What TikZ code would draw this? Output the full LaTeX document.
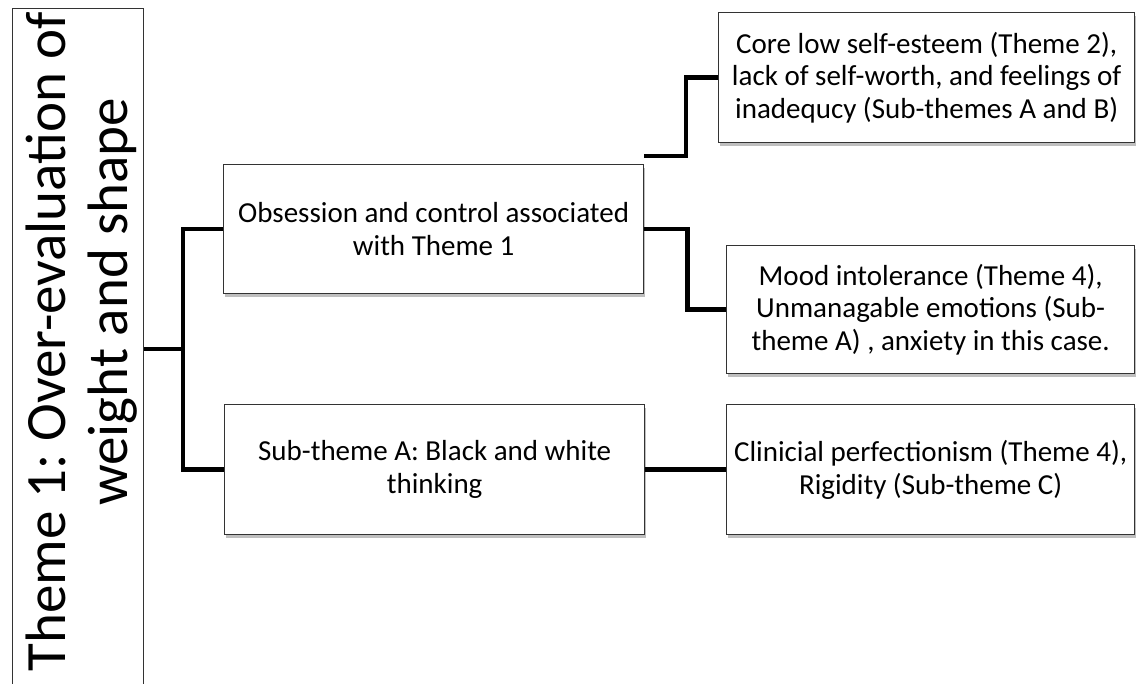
\documentclass[tikz,border=0pt]{standalone}
\usepackage{fontspec}
\setmainfont{Carlito}
\usetikzlibrary{shadows,calc}
\begin{document}
\frenchspacing
\begin{tikzpicture}[x=1pt,y=-1pt,
  box/.style={draw=black!80, line width=1.3pt, fill=white, align=center, inner sep=0pt,
    anchor=north west, font=\fontsize{29}{32.5}\selectfont,
    drop shadow={shadow xshift=1pt, shadow yshift=-3pt, opacity=0.25, fill=black}},
  conn/.style={line width=4.5pt, line cap=butt, line join=miter},
  bigtext/.style={rotate=90, anchor=base, inner sep=0pt, font=\fontsize{57}{62}\selectfont}]
\useasboundingbox (0,0) rectangle (1138,684);
\clip (0,0) rectangle (1138,684);
\fill[white] (0,0) rectangle (1138,684);

% left theme box
\node[draw=black!80, line width=1.3pt, fill=white, inner sep=0pt, anchor=north west,
  minimum width=131pt, minimum height=720pt] (theme1) at (12,8) {};
\node[bigtext] (t1) at (65,342) {Theme 1: Over-evaluation of};
\node[bigtext] (t2) at (127,302) {weight and shape};

% boxes
\node[box, minimum width=420pt, minimum height=129pt] (obs) at (223,164)
  {Obsession and control associated\\with Theme 1};
\node[box, minimum width=420pt, minimum height=130pt] (sub) at (224,404)
  {Sub-theme A: Black and white\\thinking};
\node[box, minimum width=416pt, minimum height=130pt] (core) at (718,12)
  {Core low self-esteem (Theme 2),\\lack of self-worth, and feelings of\\inadequcy (Sub-themes A and B)};
\node[box, minimum width=408pt, minimum height=128pt] (mood) at (726,245)
  {Mood intolerance (Theme 4),\\Unmanagable emotions (Sub-\\theme A) , anxiety in this case.};
\node[box, minimum width=408pt, minimum height=130pt] (clin) at (726,404)
  {Clinicial perfectionism (Theme 4),\\Rigidity (Sub-theme C)};

% connectors
\coordinate (b1) at (183,349);
\coordinate (f) at (644,156);
\draw[conn] (theme1.east |- b1) -- (b1);
\draw[conn] (obs.west) -- ++(-40,0) |- (sub.west);
\draw[conn] (f) -- ++(42,0) |- (core.west);
\draw[conn] (obs.east) -- ++(43,0) |- (mood.west);
\draw[conn] (sub.east) -- (clin.west);
\end{tikzpicture}
\end{document}
